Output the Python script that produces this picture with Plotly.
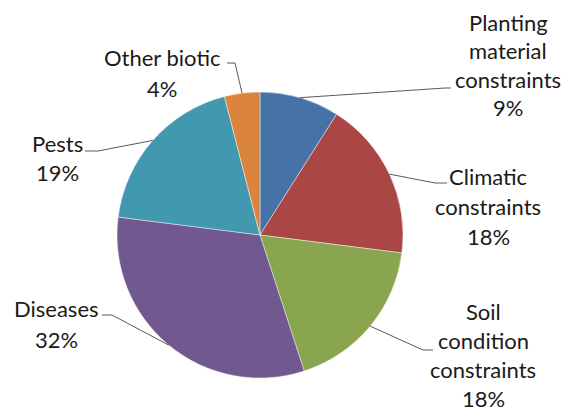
import math
import plotly.graph_objects as go

# Share of constraints reported, in percent
categories = [
    "Planting<br>material<br>constraints",
    "Climatic<br>constraints",
    "Soil<br>condition<br>constraints",
    "Diseases",
    "Pests",
    "Other biotic",
]
shares = [9, 18, 18, 32, 19, 4]
colors = ["#4572A7", "#AA4643", "#89A54E", "#71588F", "#4198AF", "#DB843D"]

W, H = 566, 413
CX, CY, R = 260, 235, 143          # pie centre and radius in pixels
FONT = "Lato"
FSIZE = 22

# label block: centre x, first-line centre y, line step, leader elbow, leader end
label_layout = [
    dict(x=508, y=22, step=28.5, elbow=(445, 88), end=(451, 88)),
    dict(x=488, y=176, step=30, elbow=(435, 183), end=(447, 183)),
    dict(x=483, y=311, step=29.3, elbow=(423, 350), end=(433, 350)),
    dict(x=56, y=308, step=31, elbow=(112, 315), end=(102, 315)),
    dict(x=57, y=143, step=29, elbow=(98, 151), end=(85, 151)),
    dict(x=162, y=57, step=31, elbow=(235, 63), end=(227, 63)),
]


def px(x):
    return x / W


def py(y):
    return 1 - y / H


fig = go.Figure()
fig.add_trace(go.Pie(
    labels=[c.replace("<br>", " ") for c in categories],
    values=shares,
    sort=False,
    direction="clockwise",
    rotation=0,
    marker=dict(colors=colors, line=dict(color="rgba(255,255,255,0.55)", width=0.8)),
    textinfo="none",
    hoverinfo="label+percent",
    showlegend=False,
    domain=dict(x=[px(CX - R), px(CX + R)], y=[py(CY + R), py(CY - R)]),
))

total = sum(shares)
cum = 0
shapes = []
annotations = []
for cat, val, lay in zip(categories, shares, label_layout):
    mid = 2 * math.pi * (cum + val / 2) / total
    cum += val
    sx = CX + R * math.sin(mid)
    sy = CY - R * math.cos(mid)
    pts = [(sx, sy), lay["elbow"], lay["end"]]
    for (x0, y0), (x1, y1) in zip(pts[:-1], pts[1:]):
        shapes.append(dict(
            type="line", xref="paper", yref="paper",
            x0=px(x0), y0=py(y0), x1=px(x1), y1=py(y1),
            line=dict(color="#595959", width=1),
        ))
    lines = cat.split("<br>") + [f"{val}%"]
    for i, txt in enumerate(lines):
        annotations.append(dict(
            text=txt, xref="paper", yref="paper",
            x=px(lay["x"]), y=py(lay["y"] + i * lay["step"]),
            xanchor="center", yanchor="middle", showarrow=False,
            borderpad=0,
            font=dict(family=FONT, size=FSIZE, color="#1a1a1a"),
        ))

fig.update_layout(
    width=W, height=H,
    margin=dict(l=0, r=0, t=0, b=0),
    paper_bgcolor="white",
    plot_bgcolor="white",
    shapes=shapes,
    annotations=annotations,
)

fig.write_html("out.html")
